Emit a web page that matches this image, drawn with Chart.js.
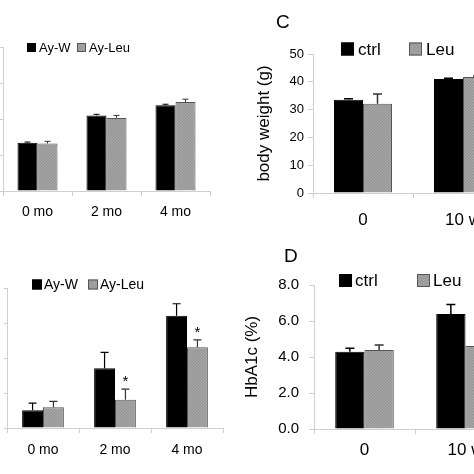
<!DOCTYPE html>
<html lang="en">
<head>
<meta charset="UTF-8" />
<title>Leucine – body weight and HbA1c</title>
<style>
  html, body { margin: 0; padding: 0; background: #fff; }
  body { width: 474px; height: 474px; overflow: hidden; position: relative; font-family: "Liberation Sans", Arial, sans-serif; }
  canvas { position: absolute; }
  .letter { position: absolute; font-size: 19px; line-height: 1; color: #000; }
</style>
</head>
<body>
  <canvas id="chartTopLeft" width="267" height="237" style="left:-47px;top:0"></canvas>
  <canvas id="chartBottomLeft" width="276" height="237" style="left:-43px;top:237px"></canvas>
  <canvas id="chartWeight" width="300" height="237" style="left:237px;top:0"></canvas>
  <canvas id="chartHbA1c" width="300" height="237" style="left:237px;top:237px"></canvas>
  <div class="letter" style="left:276px;top:12px">C</div>
  <div class="letter" style="left:284px;top:246px">D</div>

  <script src="https://cdn.jsdelivr.net/npm/chart.js"></script>
  <script>
    // categories
    const monthLabels = ["0 mo", "2 mo", "4 mo"];
    const weekLabels = ["0", "10 w"];

    // top left panel (y labels cut off in the original)
    const topAyW = [1.34, 2.10, 2.38];
    const topAyWErr = [0.02, 0.03, 0.03];
    const topAyLeu = [1.32, 2.03, 2.47];
    const topAyLeuErr = [0.06, 0.07, 0.08];
    const topTicks = [0, 1, 2, 3, 4];

    // bottom left panel
    const botAyW = [0.51, 1.71, 3.21];
    const botAyWErr = [0.20, 0.45, 0.34];
    const botAyLeu = [0.59, 0.81, 2.31];
    const botAyLeuErr = [0.17, 0.30, 0.21];
    const botStars = ["", "*", "*"];
    const botTicks = [0, 1, 2, 3, 4];

    // C: body weight (g)
    const bwCtrl = [33.5, 41.0];
    const bwCtrlErr = [0.4, 0.3];
    const bwLeu = [32.1, 41.7];
    const bwLeuErr = [3.5, 0.4];
    const bwTicks = [0, 10, 20, 30, 40, 50];

    // D: HbA1c (%)
    const hbCtrl = [4.29, 6.39];
    const hbCtrlErr = [0.19, 0.52];
    const hbLeu = [4.39, 4.61];
    const hbLeuErr = [0.28, 0.30];
    const hbTicks = [0, 2, 4, 6, 8];

    const FONT = '"Liberation Sans", Arial, sans-serif';
    const axisGrey = "#cfcfcf";

    // grey fill with a fine diagonal texture
    function makeHatch() {
      const c = document.createElement("canvas");
      c.width = 3; c.height = 3;
      const g = c.getContext("2d");
      g.fillStyle = "#a4a4a4";
      g.fillRect(0, 0, 3, 3);
      g.fillStyle = "#929292";
      for (let i = 0; i < 3; i++) g.fillRect(i, 2 - i, 1, 1);
      return g.createPattern(c, "repeat");
    }
    const hatch = makeHatch();

    // error bars (upper half only) + significance stars
    const errorBars = {
      id: "errorBars",
      afterDatasetsDraw(chart, args, opt) {
        const ctx = chart.ctx;
        const y = chart.scales.y;
        chart.data.datasets.forEach((ds, i) => {
          chart.getDatasetMeta(i).data.forEach((bar, j) => {
            const top = y.getPixelForValue(ds.data[j] + ds.errors[j]);
            ctx.save();
            ctx.strokeStyle = ds.errColor;
            ctx.lineWidth = opt.width;
            ctx.beginPath();
            ctx.moveTo(bar.x, bar.y);
            ctx.lineTo(bar.x, top);
            ctx.moveTo(bar.x - opt.cap, top);
            ctx.lineTo(bar.x + opt.cap, top);
            ctx.stroke();
            if (ds.stars && ds.stars[j]) {
              ctx.fillStyle = "#000";
              ctx.font = "15px " + FONT;
              ctx.textAlign = "center";
              ctx.textBaseline = "alphabetic";
              ctx.fillText(ds.stars[j], bar.x, top - 3);
            }
            ctx.restore();
          });
        });
      }
    };

    // legend with square swatches, drawn over the top of the plot
    const boxLegend = {
      id: "boxLegend",
      afterDraw(chart, args, opt) {
        const { ctx, chartArea } = chart;
        const cy = chartArea.top + opt.dy;
        ctx.save();
        ctx.font = opt.font + "px " + FONT;
        ctx.textAlign = "left";
        ctx.textBaseline = "middle";
        chart.data.datasets.forEach((ds, i) => {
          const bx = chartArea.left + opt.dx[i];
          ctx.fillStyle = ds.backgroundColor;
          ctx.fillRect(bx, cy - opt.box / 2, opt.box, opt.box);
          ctx.strokeStyle = ds.borderColor;
          ctx.lineWidth = 1;
          ctx.strokeRect(bx + 0.5, cy - opt.box / 2 + 0.5, opt.box - 1, opt.box - 1);
          ctx.fillStyle = "#000";
          ctx.fillText(ds.label, bx + opt.box + opt.gap, cy + 1);
        });
        ctx.restore();
      }
    };

    function makeChart(id, o) {
      const t = o.ticks;
      return new Chart(document.getElementById(id), {
        type: "bar",
        data: {
          labels: o.labels,
          datasets: [
            { label: o.names[0], data: o.series[0], errors: o.errors[0],
              backgroundColor: "#000", borderColor: "#000", borderWidth: 1, errColor: "#000" },
            { label: o.names[1], data: o.series[1], errors: o.errors[1], stars: o.stars,
              backgroundColor: hatch, borderColor: "#555", borderWidth: 1, errColor: "#333" }
          ]
        },
        options: {
          responsive: false,
          animation: false,
          layout: { padding: o.pad },
          datasets: { bar: { categoryPercentage: 0.58, barPercentage: 1 } },
          plugins: {
            legend: { display: false },
            tooltip: { enabled: false },
            boxLegend: o.legend,
            errorBars: o.err
          },
          scales: {
            x: {
              grid: { drawOnChartArea: false, tickLength: 5, color: axisGrey, offset: true },
              border: { color: axisGrey },
              ticks: { color: "#000", font: { size: o.xFont, family: FONT }, padding: o.xPad },
              afterFit: s => { s.height = o.xHeight; }
            },
            y: {
              min: t[0],
              max: t[t.length - 1],
              grid: { drawOnChartArea: false, tickLength: o.yTick, color: axisGrey },
              border: { color: axisGrey },
              ticks: {
                display: o.showY,
                stepSize: t[1] - t[0],
                color: "#000",
                font: { size: o.yFont || 13, family: FONT },
                padding: o.yPad || 3,
                callback: o.fmt || (v => v)
              },
              title: o.title
                ? { display: true, text: o.title, color: "#000", font: { size: 17, family: FONT }, padding: { top: o.titlePad, bottom: 0 } }
                : { display: false },
              afterFit: s => { s.width = o.yWidth; }
            }
          }
        },
        plugins: [errorBars, boxLegend]
      });
    }

    makeChart("chartTopLeft", {
      labels: monthLabels, names: ["Ay-W", "Ay-Leu"],
      series: [topAyW, topAyLeu], errors: [topAyWErr, topAyLeuErr],
      ticks: topTicks, showY: false, yTick: 3, yWidth: 50,
      pad: { top: 47, right: 10, left: 0, bottom: 0 },
      xFont: 14, xPad: 8, xHeight: 46,
      legend: { dx: [24, 74], dy: 0.5, box: 9, gap: 3, font: 13 },
      err: { width: 1, cap: 3 }
    });

    makeChart("chartBottomLeft", {
      labels: monthLabels, names: ["Ay-W", "Ay-Leu"],
      series: [botAyW, botAyLeu], errors: [botAyWErr, botAyLeuErr], stars: botStars,
      ticks: botTicks, showY: false, yTick: 3, yWidth: 50,
      pad: { top: 51, right: 10, left: 0, bottom: 0 },
      xFont: 14, xPad: 9, xHeight: 46,
      legend: { dx: [25, 81], dy: -3.5, box: 10, gap: 2, font: 14 },
      err: { width: 1.2, cap: 4 }
    });

    makeChart("chartWeight", {
      labels: weekLabels, names: ["ctrl", "Leu"],
      series: [bwCtrl, bwLeu], errors: [bwCtrlErr, bwLeuErr],
      ticks: bwTicks, showY: true, yTick: 5, yWidth: 76, yFont: 13, yPad: 4,
      title: "body weight (g)", titlePad: 17,
      pad: { top: 54, right: 24, left: 0, bottom: 0 },
      xFont: 17, xPad: 12, xHeight: 44,
      legend: { dx: [28, 96], dy: -5, box: 13, gap: 4, font: 17 },
      err: { width: 1.5, cap: 4.5 }
    });

    makeChart("chartHbA1c", {
      labels: weekLabels, names: ["ctrl", "Leu"],
      series: [hbCtrl, hbLeu], errors: [hbCtrlErr, hbLeuErr],
      ticks: hbTicks, showY: true, yTick: 5, yWidth: 77, yFont: 15, yPad: 10,
      fmt: v => v.toFixed(1),
      title: "HbA1c (%)", titlePad: 5,
      pad: { top: 48, right: 21, left: 0, bottom: 0 },
      xFont: 17, xPad: 6, xHeight: 45,
      legend: { dx: [25, 103], dy: -4.5, box: 13, gap: 3, font: 17 },
      err: { width: 1.5, cap: 4.5 }
    });
  </script>
</body>
</html>
